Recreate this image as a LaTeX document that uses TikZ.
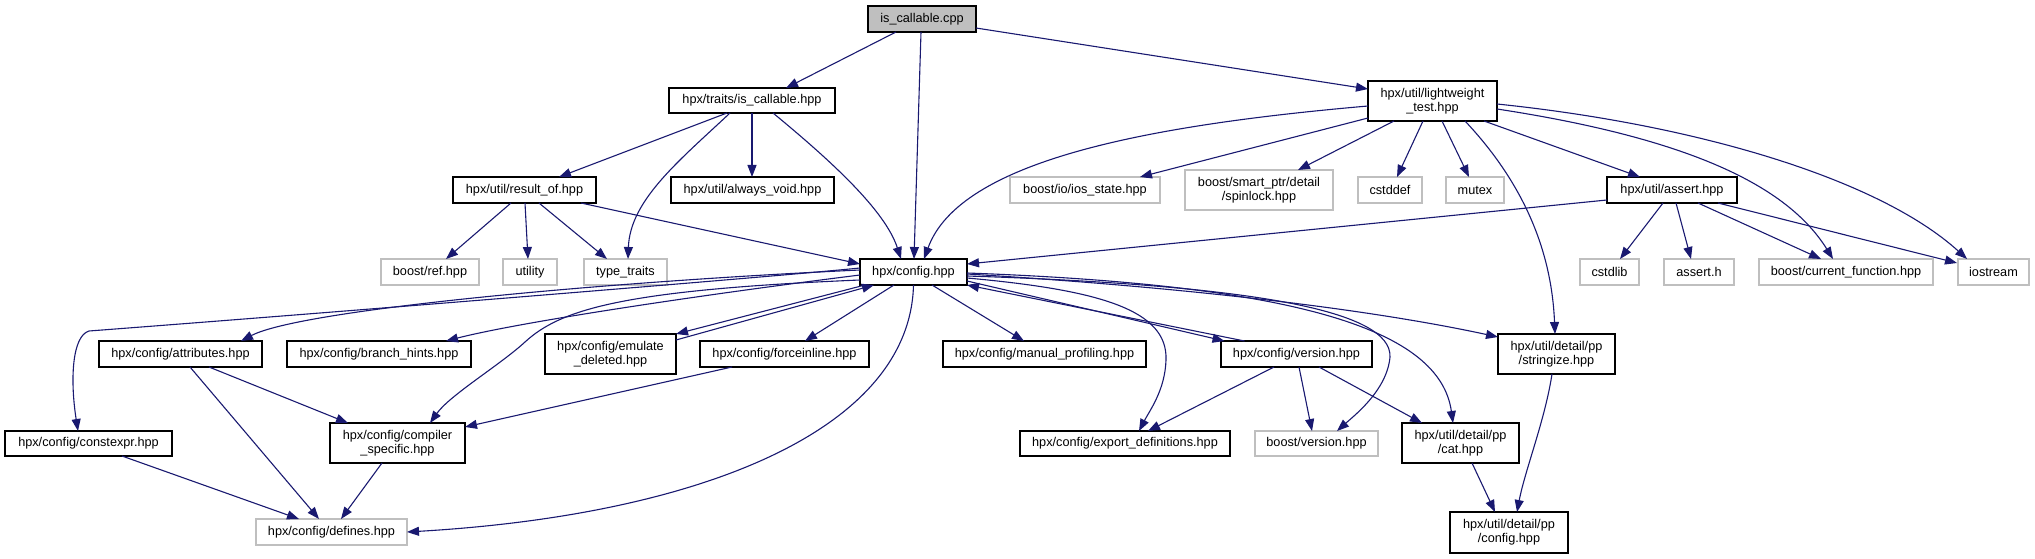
\documentclass[tikz,border=0pt]{standalone}
\usepackage{fontspec}
\setmainfont{Liberation Sans}
\usetikzlibrary{arrows.meta,calc}
\definecolor{navy}{HTML}{191970}
\definecolor{boxgray}{HTML}{BFBFBF}
\begin{document}
\begin{tikzpicture}[x=1pt,y=-1pt,
  box/.style={draw=black, line width=1.3pt, inner sep=0pt, align=center, font=\fontsize{12.7}{14}\selectfont, minimum height=25pt},
  gbox/.style={box, draw=boxgray},
  rootbox/.style={box, fill=boxgray},
  tall/.style={minimum height=40pt},
  conn/.style={draw=navy, line width=1.1pt, -{Triangle[length=12pt,width=9pt]}}]
\useasboundingbox (0,0) rectangle (2035,559);
% row 0
\node[rootbox, minimum width=108pt, minimum height=26pt] (cpp) at (922,19) {is\_callable.cpp};
% row 1
\node[box, minimum width=166pt] (tic) at (752,100.5) {hpx/traits/is\_callable.hpp};
\node[box, tall, minimum width=129pt] (lwt) at (1432.5,101) {hpx/util/lightweight\\\_test.hpp};
% row 2
\node[box, minimum width=143pt, minimum height=26pt] (ro) at (524.5,190) {hpx/util/result\_of.hpp};
\node[box, minimum width=163pt, minimum height=26pt] (av) at (752.5,190) {hpx/util/always\_void.hpp};
\node[gbox, minimum width=150pt, minimum height=26pt] (ios) at (1085,190) {boost/io/ios\_state.hpp};
\node[gbox, tall, minimum width=148pt] (spin) at (1259,190) {boost/smart\_ptr/detail\\/spinlock.hpp};
\node[gbox, minimum width=64pt, minimum height=26pt] (cstddef) at (1390,190) {cstddef};
\node[gbox, minimum width=58pt, minimum height=26pt] (mutex) at (1475,190) {mutex};
\node[box, minimum width=130pt, minimum height=26pt] (ahpp) at (1672,190) {hpx/util/assert.hpp};
% row 3
\node[gbox, minimum width=98pt, minimum height=26pt] (bref) at (430,272) {boost/ref.hpp};
\node[gbox, minimum width=54pt, minimum height=26pt] (util) at (530,272) {utility};
\node[gbox, minimum width=83pt, minimum height=26pt] (tt) at (625.5,272) {type\_traits};
\node[box, minimum width=107pt, minimum height=26pt] (cfg) at (913.5,272) {hpx/config.hpp};
\node[gbox, minimum width=59pt, minimum height=26pt] (cstdlib) at (1609.5,272) {cstdlib};
\node[gbox, minimum width=70pt, minimum height=26pt] (asserth) at (1699,272) {assert.h};
\node[gbox, minimum width=174pt, minimum height=26pt] (curf) at (1846,272) {boost/current\_function.hpp};
\node[gbox, minimum width=71pt, minimum height=26pt] (iostr) at (1993.5,272) {iostream};
% row 4
\node[box, minimum width=163pt, minimum height=26pt] (attr) at (180.5,354) {hpx/config/attributes.hpp};
\node[box, minimum width=184pt, minimum height=26pt] (bh) at (379,354) {hpx/config/branch\_hints.hpp};
\node[box, tall, minimum width=131pt] (emu) at (610.5,354) {hpx/config/emulate\\\_deleted.hpp};
\node[box, minimum width=169pt, minimum height=26pt] (fi) at (784.5,354) {hpx/config/forceinline.hpp};
\node[box, minimum width=203pt, minimum height=26pt] (mp) at (1044.5,354) {hpx/config/manual\_profiling.hpp};
\node[box, minimum width=151pt, minimum height=26pt] (ver) at (1296.5,354) {hpx/config/version.hpp};
\node[box, tall, minimum width=117pt] (str) at (1556.5,354) {hpx/util/detail/pp\\/stringize.hpp};
% row 5
\node[box, minimum width=167pt] (cexpr) at (88.5,443.5) {hpx/config/constexpr.hpp};
\node[box, tall, minimum width=135pt] (cs) at (397.5,443) {hpx/config/compiler\\\_specific.hpp};
\node[box, minimum width=210pt] (exp) at (1125,443.5) {hpx/config/export\_definitions.hpp};
\node[gbox, minimum width=123pt] (bver) at (1316.5,443.5) {boost/version.hpp};
\node[box, tall, minimum width=117pt] (cat) at (1460.5,443) {hpx/util/detail/pp\\/cat.hpp};
% row 6
\node[gbox, minimum width=151pt, minimum height=26pt] (def) at (331.5,532) {hpx/config/defines.hpp};
\node[box, minimum width=118pt, minimum height=41pt] (ppc) at (1509,532.5) {hpx/util/detail/pp\\/config.hpp};

% edges from is_callable.cpp
\draw[conn] ($(cpp)+(-26,13)$) -- ($(tic)+(34,-12.5)$);
\draw[conn] ($(cpp)+(-1,13)$) -- ($(cfg)+(0.5,-13)$);
\draw[conn] ($(cpp)+(54,9)$) -- ($(lwt)+(-64.5,-12)$);
% traits/is_callable
\draw[conn] ($(tic)+(-25,12.5)$) -- ($(ro)+(34.5,-13)$);
\draw[conn] ($(tic)+(-22,12.5)$) .. controls (680,160) and (630,200) .. ($(tt)+(2.5,-13)$);
\draw[conn] ($(tic)+(0,12.5)$) -- ($(av)+(-0.5,-13)$);
\draw[conn] ($(tic)+(21,12.5)$) .. controls (830,160) and (885,210) .. ($(cfg)+(-12.5,-13)$);
% lightweight_test
\draw[conn] ($(lwt)+(-64.5,5)$) .. controls (1150,125) and (960,160) .. ($(cfg)+(10.5,-13)$);
\draw[conn] ($(lwt)+(-64.5,17)$) -- ($(ios)+(55,-13)$);
\draw[conn] ($(lwt)+(-38.5,20)$) -- ($(spin)+(39,-20)$);
\draw[conn] ($(lwt)+(-9.5,20)$) -- ($(cstddef)+(7,-13)$);
\draw[conn] ($(lwt)+(9.5,20)$) -- ($(mutex)+(-6,-13)$);
\draw[conn] ($(lwt)+(32.5,20)$) .. controls (1530,190) and (1552,260) .. ($(str)+(-1.5,-20)$);
\draw[conn] ($(lwt)+(51.5,20)$) -- ($(ahpp)+(-32,-13)$);
\draw[conn] ($(lwt)+(64.5,8)$) .. controls (1700,140) and (1790,190) .. ($(curf)+(-13,-13)$);
\draw[conn] ($(lwt)+(64.5,3)$) .. controls (1700,125) and (1880,180) .. ($(iostr)+(-26.5,-13)$);
% result_of
\draw[conn] ($(ro)+(-13.5,13)$) -- ($(bref)+(16,-13)$);
\draw[conn] ($(ro)+(0.5,13)$) -- ($(util)+(-2,-13)$);
\draw[conn] ($(ro)+(14.5,13)$) -- ($(tt)+(-18.5,-13)$);
\draw[conn] ($(ro)+(56.5,13)$) -- ($(cfg)+(-53.5,-8)$);
% assert.hpp
\draw[conn] ($(ahpp)+(-65,10)$) -- ($(cfg)+(53.5,-8)$);
\draw[conn] ($(ahpp)+(-9,13)$) -- ($(cstdlib)+(10.5,-13)$);
\draw[conn] ($(ahpp)+(4,13)$) -- ($(asserth)+(-8,-13)$);
\draw[conn] ($(ahpp)+(26,13)$) -- ($(curf)+(-25,-13)$);
\draw[conn] ($(ahpp)+(46,13)$) -- ($(iostr)+(-36.5,-9)$);
% config.hpp
\draw[conn] ($(cfg)+(-53.5,-4)$) .. controls (760,278) and (300,315) .. (89,331) .. controls (72,336) and (70,380) .. ($(cexpr)+(-10.5,-12.5)$);
\draw[conn] ($(cfg)+(-53.5,-2)$) .. controls (600,282) and (300,310) .. ($(attr)+(60.5,-13)$);
\draw[conn] ($(cfg)+(-53.5,3)$) .. controls (700,295) and (520,322) .. ($(bh)+(67,-13)$);
\draw[conn] ($(cfg)+(-53.5,8)$) .. controls (620,290) and (560,310) .. (525,342) .. controls (500,365) and (450,395) .. ($(cs)+(32.5,-20)$);
\draw[conn] ($(cfg)+(-48.5,13)$) -- ($(emu)+(65.5,-20)$);
\draw[conn] ($(emu)+(65.5,-14)$) -- ($(cfg)+(-39.5,13)$);
\draw[conn] ($(cfg)+(-19.5,13)$) -- ($(fi)+(20.5,-13)$);
\draw[conn] ($(cfg)+(18.5,13)$) -- ($(mp)+(-20.5,-13)$);
\draw[conn] ($(cfg)+(0,13)$) .. controls (910,430) and (700,515) .. ($(def)+(75.5,0)$);
\draw[conn] ($(cfg)+(53.5,6)$) .. controls (1100,290) and (1168,310) .. (1166,360) .. controls (1165,390) and (1150,410) .. ($(exp)+(14,-12.5)$);
\draw[conn] ($(cfg)+(53.5,4)$) .. controls (1250,285) and (1392,310) .. (1390,357) .. controls (1387,390) and (1355,415) .. ($(bver)+(20.5,-12.5)$);
\draw[conn] ($(cfg)+(53.5,1)$) .. controls (1300,285) and (1440,330) .. ($(cat)+(-7.5,-20)$);
\draw[conn] ($(cfg)+(53.5,2)$) .. controls (1150,285) and (1350,305) .. ($(str)+(-58.5,-17)$);
\draw[conn] ($(cfg)+(53.5,9)$) -- ($(ver)+(-72,-13)$);
\draw[conn] ($(ver)+(-52,-13)$) -- ($(cfg)+(53.5,13)$);
% version.hpp
\draw[conn] ($(ver)+(-22.5,13)$) -- ($(exp)+(23,-12.5)$);
\draw[conn] ($(ver)+(2.5,13)$) -- ($(bver)+(-4.5,-12.5)$);
\draw[conn] ($(ver)+(22.5,13)$) -- ($(cat)+(-38.5,-20)$);
% pp
\draw[conn] ($(cat)+(11.5,20)$) -- ($(ppc)+(-14,-20.5)$);
\draw[conn] ($(str)+(-4.5,20)$) .. controls (1545,420) and (1525,470) .. ($(ppc)+(8,-20.5)$);
% lower left
\draw[conn] ($(attr)+(28.5,13)$) -- ($(cs)+(-49.5,-20)$);
\draw[conn] ($(attr)+(9.5,13)$) -- ($(def)+(-12.5,-13)$);
\draw[conn] ($(fi)+(-52.5,13)$) -- ($(cs)+(67.5,-16)$);
\draw[conn] ($(cexpr)+(33.5,12.5)$) -- ($(def)+(-32.5,-13)$);
\draw[conn] ($(cs)+(-15.5,20)$) -- ($(def)+(9.5,-13)$);
\end{tikzpicture}
\end{document}
